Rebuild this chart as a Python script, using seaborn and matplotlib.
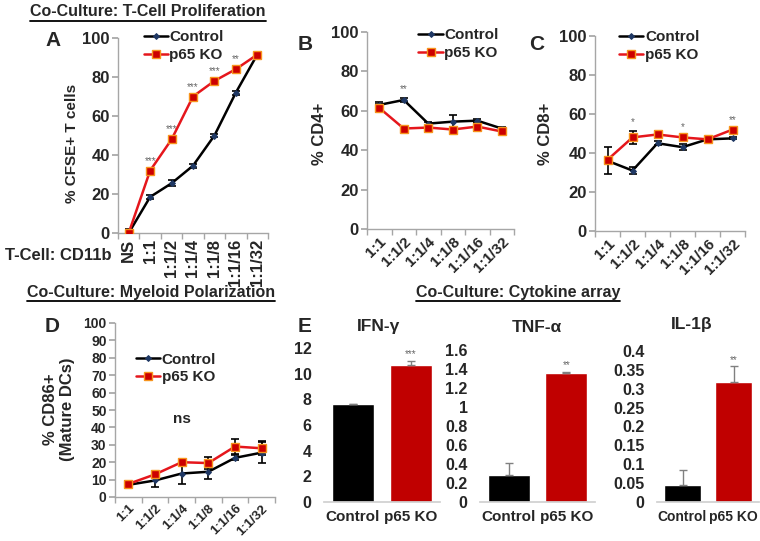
import numpy as np
import seaborn as sns
import matplotlib.pyplot as plt
from matplotlib.lines import Line2D

sns.set_theme(style="white")
plt.rcParams['font.family'] = ['Liberation Sans', 'DejaVu Sans']
plt.rcParams['font.weight'] = 'bold'

# ---- data ----
a_labels = ["NS", "1:1", "1:1/2", "1:1/4", "1:1/8", "1:1/16", "1:1/32"]
a_ctrl = [0, 18.5, 25.5, 34.5, 50, 72, 91.5]
a_ctrl_err = [2, 1, 1.5, 1, 0.8, 1, 0.5]
a_ko = [0, 32, 48, 70, 78, 84, 91.5]
a_ko_err = [0, 0.5, 0.5, 0.5, 0.5, 0.5, 0.5]
a_stars = ["", "***", "***", "***", "***", "**", ""]

ratio_labels = ["1:1", "1:1/2", "1:1/4", "1:1/8", "1:1/16", "1:1/32"]
b_ctrl = [63, 65.5, 53.5, 54.5, 55, 51]
b_ctrl_err = [1.5, 0.8, 1, 3.5, 1, 1]
b_ko = [61.5, 51, 51.5, 50.5, 52, 49.5]
b_ko_err = [2, 0.5, 0.5, 0.5, 2, 1]
b_stars = ["", "**", "", "", "", ""]

c_ctrl = [36, 31, 45, 43, 47, 47.5]
c_ctrl_err = [7, 2, 1, 1.5, 0.5, 0.5]
c_ko = [36.5, 48, 49.5, 48, 47, 52]
c_ko_err = [0.5, 3.5, 2, 0.5, 0.5, 0.5]
c_stars = ["", "*", "", "*", "", "**"]

d_ctrl = [7, 9.5, 13.5, 14.5, 22.5, 25.5]
d_ctrl_err = [1, 3.5, 6, 4, 1.5, 6]
d_ko = [7.5, 13, 20, 19.5, 29, 28]
d_ko_err = [1.5, 0.5, 0.5, 3.5, 4.5, 4]
d_stars = ["", "", "", "", "", ""]

e_groups = ["Control", "p65 KO"]
ifn = [7.6, 10.7]
ifn_err = [0.05, 0.3]
tnf = [0.28, 1.36]
tnf_err = [0.13, 0.01]
il1b = [0.045, 0.318]
il1b_err = [0.04, 0.042]

RED_LINE = '#E5161C'
RED_FACE = '#CC0000'
ORANGE = '#F7941D'
NAVY = '#1F3864'
GRAY = '#A6A6A6'
BAR_RED = '#C00000'

W, H = 760, 541
fig = plt.figure(figsize=(W / 100, H / 100), dpi=100)


def px_axes(l, t, r, b):
    return fig.add_axes([l / W, 1 - b / H, (r - l) / W, (b - t) / H])


def fig_text(x, y, s, **kw):
    return fig.text(x / W, 1 - y / H, s, **kw)


def style_axes(ax):
    sns.despine(ax=ax)
    for sp in ('left', 'bottom'):
        ax.spines[sp].set_color(GRAY)
        ax.spines[sp].set_linewidth(1)


def line_panel(ax, labels, ctrl, ctrl_err, ko, ko_err, stars, yticks,
               rot, ytick_fs, xtick_fs, legend_anchor):
    x = np.arange(len(labels))
    ax.errorbar(x, ctrl, yerr=ctrl_err, fmt='none', ecolor='black',
                elinewidth=1.2, capsize=3, capthick=1.2, zorder=2)
    ax.errorbar(x, ko, yerr=ko_err, fmt='none', ecolor='black',
                elinewidth=1.2, capsize=3, capthick=1.2, zorder=2)
    sns.lineplot(x=x, y=ctrl, ax=ax, color='black', lw=1.8, marker='D',
                 markersize=3, markerfacecolor=NAVY, markeredgecolor=NAVY,
                 label='Control', zorder=3)
    sns.lineplot(x=x, y=ko, ax=ax, color=RED_LINE, lw=1.8, marker='s',
                 markersize=6, markerfacecolor=RED_FACE,
                 markeredgecolor=ORANGE, markeredgewidth=1,
                 label='p65 KO', zorder=4)
    for i, s in enumerate(stars):
        if s:
            top = max(ctrl[i] + ctrl_err[i], ko[i] + ko_err[i])
            ax.text(i, top + 2, s, ha='center', va='bottom', fontsize=7,
                    color='#666666', fontweight='normal')
    ax.set_xlim(-0.5, len(labels) - 0.5)
    ax.set_ylim(yticks[0], yticks[-1])
    ax.set_yticks(yticks)
    ax.set_yticklabels([str(v) for v in yticks], fontsize=ytick_fs,
                       fontweight='bold')
    ax.set_xticks(x)
    if rot == 90:
        ax.set_xticklabels(labels, rotation=90, ha='center',
                           fontsize=xtick_fs, fontweight='bold')
    else:
        ax.set_xticklabels(labels, rotation=45, ha='right',
                           rotation_mode='anchor', fontsize=xtick_fs,
                           fontweight='bold')
    ax.set_xticks(np.arange(-0.5, len(labels), 1), minor=True)
    ax.tick_params(axis='x', which='major', length=0, pad=4)
    ax.tick_params(axis='x', which='minor', bottom=True, length=4,
                   color=GRAY, direction='out')
    ax.tick_params(axis='y', left=True, length=4, color=GRAY,
                   direction='out', pad=2)
    ax.set_xlabel('')
    ax.set_ylabel('')
    style_axes(ax)
    ax.legend(loc='upper left', bbox_to_anchor=legend_anchor, frameon=False,
              handlelength=1.6, handletextpad=0.1, labelspacing=0.25,
              borderaxespad=0, borderpad=0,
              prop={'size': 11, 'weight': 'bold'})


def bar_panel(ax, vals, errs, yticks, star, xtick_fs):
    sns.barplot(x=e_groups, y=vals, hue=e_groups,
                palette=['black', BAR_RED], width=0.73, ax=ax,
                legend=False, saturation=1)
    ax.errorbar(range(len(vals)), vals, yerr=[[0] * len(vals), errs],
                fmt='none', ecolor='#808080', elinewidth=1, capsize=3,
                capthick=1)
    ax.text(1, vals[1] + errs[1] + (yticks[-1] * 0.01), star, ha='center',
            va='bottom', fontsize=7, color='#666666', fontweight='normal')
    ax.set_xlim(-0.5, 1.5)
    ax.set_ylim(yticks[0], yticks[-1])
    ax.set_yticks(yticks)
    ax.set_yticklabels([f"{v:g}" for v in yticks], fontsize=11.5,
                       fontweight='bold')
    ax.set_xticks([0, 1])
    ax.set_xticklabels(e_groups, fontsize=xtick_fs, fontweight='bold')
    ax.tick_params(axis='both', length=0)
    ax.tick_params(axis='y', pad=9)
    ax.tick_params(axis='x', pad=6)
    ax.set_xlabel('')
    ax.set_ylabel('')
    sns.despine(ax=ax, left=True)
    ax.spines['bottom'].set_color('#D0D0D0')


# ---- Panel A ----
ax_a = px_axes(118, 38, 268, 233)
line_panel(ax_a, a_labels, a_ctrl, a_ctrl_err, a_ko, a_ko_err, a_stars,
           list(range(0, 101, 20)), 90, 12, 12, (0.17, 1.04))

# ---- Panel B ----
ax_b = px_axes(367, 32, 514, 229)
line_panel(ax_b, ratio_labels, b_ctrl, b_ctrl_err, b_ko, b_ko_err, b_stars,
           list(range(0, 101, 20)), 45, 12, 11, (0.35, 1.02))

# ---- Panel C ----
ax_c = px_axes(595, 36, 745, 231)
line_panel(ax_c, ratio_labels, c_ctrl, c_ctrl_err, c_ko, c_ko_err, c_stars,
           list(range(0, 101, 20)), 45, 12, 11, (0.16, 1.03))

# ---- Panel D ----
ax_d = px_axes(115, 323, 275, 497)
line_panel(ax_d, ratio_labels, d_ctrl, d_ctrl_err, d_ko, d_ko_err, d_stars,
           list(range(0, 101, 10)), 45, 10, 9.5, (0.13, 0.83))
ax_d.text(2, 45, 'ns', ha='center', va='center', fontsize=11,
          fontweight='bold')

# ---- Panel E ----
ax_e1 = px_axes(324, 348, 440, 502)
bar_panel(ax_e1, ifn, ifn_err, list(range(0, 13, 2)), '***', 11)
ax_e2 = px_axes(480, 350, 595, 502)
bar_panel(ax_e2, tnf, tnf_err,
          [round(v, 1) for v in np.arange(0, 1.61, 0.2)], '**', 11)
ax_e3 = px_axes(657, 351, 759, 502)
bar_panel(ax_e3, il1b, il1b_err,
          [round(v, 2) for v in np.arange(0, 0.401, 0.05)], '**', 10)

# ---- text ----
titles = [
    fig_text(30, 12, 'Co-Culture: T-Cell Proliferation', fontsize=11.5,
             fontweight='bold', va='center', ha='left'),
    fig_text(27, 292, 'Co-Culture: Myeloid Polarization', fontsize=11.5,
             fontweight='bold', va='center', ha='left'),
    fig_text(518, 292, 'Co-Culture: Cytokine array', fontsize=11.5,
             fontweight='bold', va='center', ha='center'),
]
for letter, x, y in [('A', 53, 41), ('B', 305, 45), ('C', 537, 45),
                     ('D', 52, 326), ('E', 305, 327)]:
    fig_text(x, y, letter, fontsize=15, fontweight='bold', ha='center',
             va='center')
for name, x, y in [('IFN-γ', 378, 327), ('TNF-α', 537, 327),
                   ('IL-1β', 692, 324)]:
    fig_text(x, y, name, fontsize=12.5, fontweight='bold', ha='center',
             va='center')

fig_text(5, 255, 'T-Cell: CD11b', fontsize=12, fontweight='bold',
         ha='left', va='center')
fig_text(72, 143, '% CFSE+ T cells', fontsize=11, fontweight='bold',
         rotation=90, ha='center', va='center')
fig_text(320, 134, '% CD4+', fontsize=12, fontweight='bold',
         rotation=90, ha='center', va='center')
fig_text(546, 134, '% CD8+', fontsize=12, fontweight='bold',
         rotation=90, ha='center', va='center')
fig_text(59, 409, '% CD86+\n(Mature DCs)', fontsize=12, fontweight='bold',
         rotation=90, ha='center', va='center', linespacing=1.1)

# underline section titles
fig.canvas.draw()
inv = fig.transFigure.inverted()
for t in titles:
    bb = t.get_window_extent()
    (x0, y0), (x1, _) = inv.transform([(bb.x0, bb.y0), (bb.x1, bb.y1)])
    fig.add_artist(Line2D([x0, x1], [y0 - 1 / H] * 2, color='black', lw=1.3,
                          transform=fig.transFigure))

fig.savefig('out.png', dpi=100)
